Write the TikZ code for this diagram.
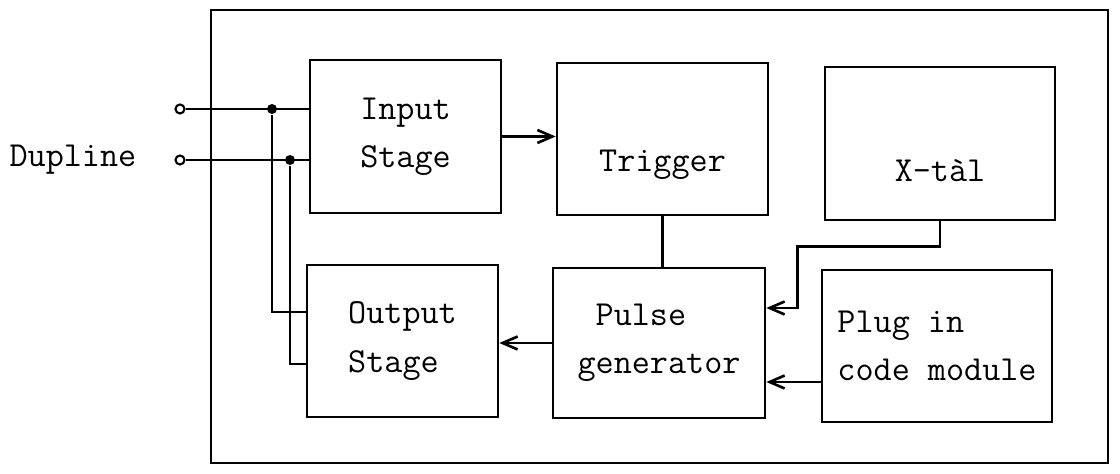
\documentclass[tikz,border=0pt]{standalone}
\usepackage{fontspec}
\usetikzlibrary{arrows.meta, positioning}

\begin{document}
\begin{tikzpicture}[
        line width=1.5pt,
        font=\ttfamily\fontsize{20pt}{27.5pt}\selectfont,
        >={Straight Barb[length=3mm,width=2.6mm]},
        box/.style={draw, align=left, minimum height=3.04cm},
        term/.style={circle, draw, line width=1.2pt, inner sep=0pt, minimum size=0.18cm},
        dot/.style={circle, fill, inner sep=0pt, minimum size=0.2cm}
    ]
        \useasboundingbox (0, 0) rectangle (22.4, 9.48);

        % housing
        \draw (4.22, 0.22) rectangle (22.16, 9.28);

        % upper row
        \node[box, minimum width=3.82cm, minimum height=3.06cm] (inp) at (8.11, 6.75) {Input\\Stage};
        \node[box, minimum width=4.22cm, label={[yshift=-0.52cm]center:Trigger}] (trig) at (13.25, 6.70) {};
        \node[box, minimum width=4.6cm, minimum height=3.06cm, label={[yshift=-0.54cm]center:X-tàl}] (xtal) at (18.8, 6.61) {};

        % lower row
        \node[box, minimum width=3.82cm] (outp) at (8.05, 2.66) {Output\\Stage};
        \node[box, minimum width=4.24cm, minimum height=3cm] (pulse) at (13.18, 2.62) {\ Pulse\\generator};
        \node[box, minimum width=4.6cm] (plug) at (18.74, 2.56) {Plug in\\code module};

        % bus terminals
        \node[term] (t1) at (3.6, 7.3) {};
        \node[term] (t2) at (3.6, 6.28) {};
        \node[left=0.62cm of t2] (dup) {Dupline};

        \node[dot] (j1) at (5.44, 7.3) {};
        \node[dot] (j2) at (5.8, 6.28) {};

        \draw (t1) -- (t1 -| inp.west);
        \draw (t2) -- (t2 -| inp.west);
        \draw (j1) |- ([yshift=0.58cm]outp.west);
        \draw (j2) |- ([yshift=-0.46cm]outp.west);

        % signal paths
        \draw[->] (inp.east) -- (inp.east -| trig.west);
        \draw (trig.south) -- (trig.south |- pulse.north);
        \draw[->] (xtal.south) -- ++(0, -0.5) -| ([xshift=0.62cm, yshift=0.7cm]pulse.east) -- ([yshift=0.7cm]pulse.east);
        \draw[->] ([yshift=-0.72cm]plug.west) -- ([yshift=-0.72cm]plug.west -| pulse.east);
        \draw[->] (pulse.west) -- (pulse.west -| outp.east);
    \end{tikzpicture}
\end{document}
